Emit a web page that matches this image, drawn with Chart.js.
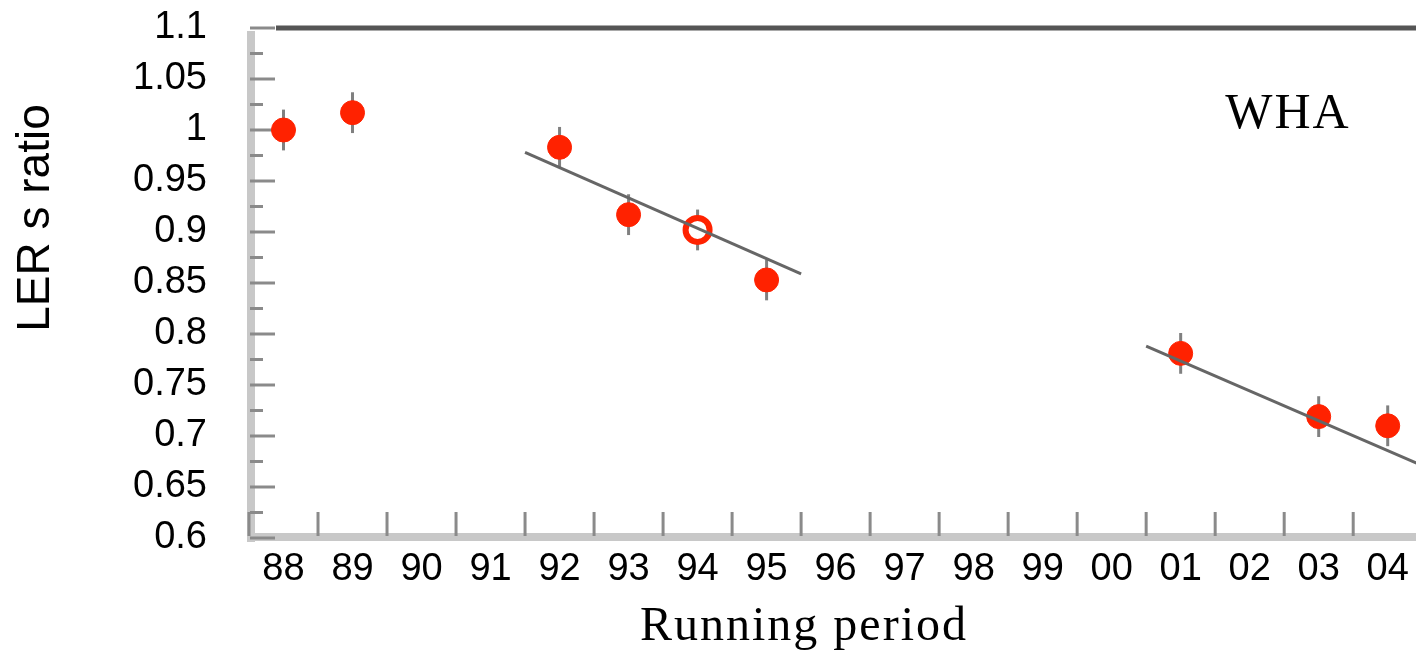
<!DOCTYPE html>
<html>
<head>
<meta charset="utf-8">
<script src="https://cdn.jsdelivr.net/npm/chart.js@4.4.1/dist/chart.umd.min.js"></script>
<style>
  html, body { margin: 0; padding: 0; background: #fff; overflow: hidden; }
  #myChart { display: block; }
</style>
</head>
<body>
<canvas id="myChart" width="1416" height="650"></canvas>
<script>
// running periods (x categories)
const periods = ['88', '89', '90', '91', '92', '93', '94', '95', '96', '97', '98', '99', '00', '01', '02', '03', '04'];
// LER ratio per period (null = no measurement)
const ratio = [1.0, 1.017, null, null, 0.983, 0.917, 0.902, 0.853, null, null, null, null, null, 0.781, null, 0.719, 0.710];
// error per point
const ratioErr = [0.02, 0.02, null, null, 0.02, 0.02, 0.02, 0.02, null, null, null, null, null, 0.02, null, 0.02, 0.02];
// fitted trend lines (x in period index)
const fitA = [{ x: 3.5, y: 0.978 }, { x: 7.5, y: 0.859 }];
const fitB = [{ x: 12.5, y: 0.788 }, { x: 16.5, y: 0.671 }];
// y axis ticks
const yTicks = [0.6, 0.65, 0.7, 0.75, 0.8, 0.85, 0.9, 0.95, 1.0, 1.05, 1.1];

const points = [];
ratio.forEach((v, i) => { if (v !== null) points.push({ x: i, y: v, e: ratioErr[i] }); });

// ring marker for 94 like in the picture
const pointFill = points.map(p => periods[p.x] === '94' ? '#ffffff' : '#ff2200');
const pointBorderW = points.map(p => periods[p.x] === '94' ? 6 : 1);

// axis frame plugin: gray axis bars, tick marks, top line
const frame = {
  id: 'frame',
  beforeDatasetsDraw(chart) {
    const { ctx, chartArea: { top, bottom, left, right }, scales: { x, y } } = chart;
    ctx.save();
    ctx.fillStyle = '#c8c8c8';
    ctx.fillRect(left - 2, top + 3, 8, bottom - top + 1);
    ctx.fillRect(left - 2, bottom - 5, right - left + 2, 8);

    ctx.strokeStyle = '#8a8a8a';
    ctx.lineWidth = 3;
    // x ticks at category boundaries
    for (let i = 0; i <= periods.length; i++) {
      const px = x.getPixelForValue(i - 0.5);
      if (px > right + 1) continue;
      ctx.beginPath();
      ctx.moveTo(px, bottom - 26);
      ctx.lineTo(px, bottom - 2);
      ctx.stroke();
    }
    // y ticks, major and minor
    yTicks.forEach((v, i) => {
      const py = y.getPixelForValue(v);
      ctx.beginPath();
      ctx.moveTo(left + 1, py);
      ctx.lineTo(left + 26, py);
      ctx.stroke();
      if (i < yTicks.length - 1) {
        const pm = y.getPixelForValue(v + 0.025);
        ctx.beginPath();
        ctx.moveTo(left + 1, pm);
        ctx.lineTo(left + 14, pm);
        ctx.stroke();
      }
    });
    // top line
    ctx.strokeStyle = '#555555';
    ctx.lineWidth = 5;
    ctx.beginPath();
    ctx.moveTo(left + 27, top);
    ctx.lineTo(right, top);
    ctx.stroke();

    // error bars below the markers
    ctx.strokeStyle = '#808080';
    ctx.lineWidth = 3;
    points.forEach(p => {
      const px = x.getPixelForValue(p.x);
      ctx.beginPath();
      ctx.moveTo(px, y.getPixelForValue(p.y + p.e));
      ctx.lineTo(px, y.getPixelForValue(p.y - p.e));
      ctx.stroke();
    });
    ctx.restore();
  },
  afterDraw(chart) {
    const { ctx } = chart;
    ctx.save();
    ctx.fillStyle = '#000';
    // y title
    ctx.translate(36, 218);
    ctx.rotate(-Math.PI / 2);
    ctx.font = '46px "Liberation Sans"';
    ctx.textAlign = 'center';
    ctx.textBaseline = 'middle';
    ctx.fillText('LER s ratio', 0, 0);
    ctx.restore();

    ctx.save();
    ctx.fillStyle = '#000';
    ctx.textAlign = 'center';
    ctx.textBaseline = 'alphabetic';
    ctx.letterSpacing = '2px';
    ctx.font = '48px "Liberation Serif"';
    ctx.fillText('Running period', 804, 640);
    ctx.font = '50px "Liberation Serif"';
    ctx.fillText('WHA', 1288, 128);
    ctx.restore();
  }
};

const noPad = (scale) => {
  scale.paddingTop = 0;
  scale.paddingBottom = 0;
  scale.paddingLeft = 0;
  scale.paddingRight = 0;
};

const config = {
  type: 'scatter',
  data: {
    datasets: [
      {
        data: points,
        showLine: false,
        pointRadius: 12,
        pointHoverRadius: 12,
        pointBackgroundColor: pointFill,
        pointBorderColor: '#ff2200',
        pointBorderWidth: pointBorderW,
        order: 1
      },
      {
        data: fitA,
        showLine: true,
        borderColor: '#666666',
        borderWidth: 3,
        pointRadius: 0,
        order: 0
      },
      {
        data: fitB,
        showLine: true,
        borderColor: '#666666',
        borderWidth: 3,
        pointRadius: 0,
        order: 0
      }
    ]
  },
  options: {
    responsive: false,
    animation: false,
    layout: { autoPadding: false, padding: { top: 28, right: 0, left: 0, bottom: 0 } },
    plugins: {
      legend: { display: false },
      tooltip: { enabled: false }
    },
    scales: {
      x: {
        type: 'linear',
        min: -0.5,
        max: 16.41,
        grid: { display: false, drawTicks: false },
        border: { display: false },
        afterBuildTicks: (scale) => {
          scale.ticks = periods.map((_, i) => ({ value: i }));
        },
        afterFit: (scale) => { scale.height = 112; noPad(scale); },
        ticks: {
          autoSkip: false,
          maxRotation: 0,
          padding: 9,
          color: '#000',
          font: { family: '"Liberation Sans"', size: 38 },
          callback: (value) => periods[value]
        }
      },
      y: {
        min: 0.6,
        max: 1.1,
        grid: { display: false, drawTicks: false },
        border: { display: false },
        afterBuildTicks: (scale) => {
          scale.ticks = yTicks.map(v => ({ value: v }));
        },
        afterFit: (scale) => { scale.width = 249; noPad(scale); },
        ticks: {
          autoSkip: false,
          padding: 42,
          color: '#000',
          font: { family: '"Liberation Sans"', size: 38 },
          callback: (value) => String(+value.toFixed(2))
        }
      }
    }
  },
  plugins: [frame]
};

const myChart = new Chart(document.getElementById('myChart'), config);
</script>
</body>
</html>
